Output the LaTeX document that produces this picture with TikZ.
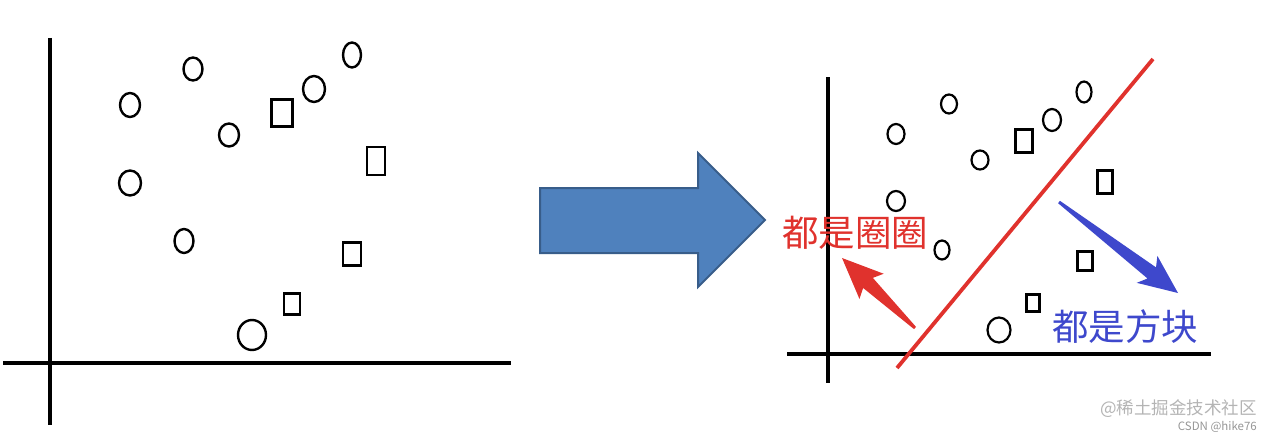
\documentclass[tikz,border=0pt]{standalone}
\usepackage{fontspec}
\newfontfamily\cjk{Noto Sans CJK SC}
\usetikzlibrary{shapes,calc,positioning}
\definecolor{ptblue}{RGB}{79,129,189}
\definecolor{ptblueedge}{RGB}{56,93,138}
\definecolor{sepred}{RGB}{224,50,45}
\definecolor{markblue}{RGB}{62,72,204}
\definecolor{wmgray}{RGB}{180,180,180}
\definecolor{wmdark}{RGB}{150,150,150}
\tikzstyle{axis} = [line width=3.5pt, black]
\tikzstyle{ringmark} = [ellipse, draw, line width=2.4pt, inner sep=0pt, minimum width=20pt, minimum height=24pt]
\tikzstyle{boxmark} = [rectangle, draw, line width=2.4pt, inner sep=0pt]
\tikzstyle{ringsmall} = [ellipse, draw, line width=2.2pt, inner sep=0pt, minimum width=17pt, minimum height=20pt]
\tikzstyle{boxsmall} = [rectangle, draw, line width=2.2pt, inner sep=0pt]
\tikzstyle{cjklabel} = [anchor=base west, inner sep=0pt, font=\cjk\fontsize{36.5}{40}\selectfont]

\begin{document}
\begin{tikzpicture}[x=1pt,y=-1pt]
\useasboundingbox (0,0) rectangle (1276,436);

% left: raw points
\draw[axis] (50,38) -- (50,425);
\draw[axis] (3,363) -- (511,363);
\node[ringmark] (c1) at (130,105) {};
\node[ringmark, minimum width=19pt, minimum height=23pt] (c2) at (193,69) {};
\node[ringmark, minimum height=23pt] (c3) at (229,135) {};
\node[ringmark, minimum width=22pt, minimum height=26pt] (c4) at (314,89) {};
\node[ringmark, minimum width=18pt, minimum height=25pt] (c5) at (352,55) {};
\node[ringmark, minimum width=22pt, minimum height=25pt] (c6) at (130,183) {};
\node[ringmark, minimum width=19pt] (c7) at (184,241) {};
\node[ringmark, minimum width=28pt, minimum height=30pt] (c8) at (252,335) {};
\node[boxmark, minimum width=21pt, minimum height=27pt] (s1) at (282,113) {};
\node[boxmark, minimum width=18pt, minimum height=28pt] (s2) at (376,161) {};
\node[boxmark, minimum width=18pt, minimum height=23pt] (s3) at (352,254) {};
\node[boxmark, minimum width=16pt, minimum height=21pt] (s4) at (292,304) {};

% big arrow
\draw[fill=ptblue, draw=ptblueedge, line width=2pt, line join=miter]
  (540,188) -- (698,188) -- (698,153) -- (765,220) -- (698,287) -- (698,253) -- (540,253) -- cycle;

% right: split points
\draw[axis, line width=3.2pt] (828,77) -- (828,383);
\draw[axis, line width=3.2pt] (787,354) -- (1211,354);
\node[ringsmall] (d1) at (896,134) {};
\node[ringsmall, minimum width=16pt, minimum height=19pt] (d2) at (949,104) {};
\node[ringsmall, minimum height=19pt] (d3) at (980,160) {};
\node[ringsmall, minimum width=18pt, minimum height=22pt] (d4) at (1052,120) {};
\node[ringsmall, minimum width=15pt, minimum height=21pt] (d5) at (1084,92) {};
\node[ringsmall, minimum width=18pt] (d6) at (896,201) {};
\node[ringsmall, minimum width=15pt, minimum height=19pt] (d7) at (942,250) {};
\node[ringsmall, minimum width=23pt, minimum height=25pt] (d8) at (999,330) {};
\node[boxsmall, minimum width=17pt, minimum height=23pt] (t1) at (1024,141) {};
\node[boxsmall, minimum width=15pt, minimum height=23pt] (t2) at (1105,182) {};
\node[boxsmall, minimum width=15pt, minimum height=19pt] (t3) at (1085,261) {};
\node[boxsmall, minimum width=13pt, minimum height=17pt] (t4) at (1033,303) {};

\coordinate (sepa) at (897,368);
\coordinate (sepb) at (1153,59);
\draw[sepred, line width=3.8pt] (sepa) -- (sepb);

\node[cjklabel, text=sepred] (lblring) at (782,246) {都是圈圈};
\node[cjklabel, text=markblue] (lblbox) at (1052,340) {都是方块};

% red arrow
\coordinate (rtail) at (915,328);
\coordinate (rtip) at (842,258);
\coordinate (rneck) at ($(rtip)!36pt!(rtail)$);
\coordinate (rbarb) at ($(rtip)!41pt!(rtail)$);
\fill[sepred] ($(rtail)!1.5pt!90:(rtip)$) -- ($(rneck)!7pt!90:(rtip)$) -- ($(rbarb)!17.5pt!90:(rtip)$) -- (rtip)
  -- ($(rbarb)!17.5pt!-90:(rtip)$) -- ($(rneck)!7pt!-90:(rtip)$) -- ($(rtail)!1.5pt!-90:(rtip)$) -- cycle;

% blue arrow
\coordinate (btail) at (1059,202);
\coordinate (btip) at (1178,293);
\coordinate (bneck) at ($(btip)!33pt!(btail)$);
\coordinate (bbarb) at ($(btip)!39pt!(btail)$);
\fill[markblue] ($(btail)!1.5pt!90:(btip)$) -- ($(bneck)!7pt!90:(btip)$) -- ($(bbarb)!17pt!90:(btip)$) -- (btip)
  -- ($(bbarb)!17pt!-90:(btip)$) -- ($(bneck)!7pt!-90:(btip)$) -- ($(btail)!1.5pt!-90:(btip)$) -- cycle;

% watermark
\node[anchor=base west, inner sep=0pt, text=wmgray, font=\cjk\fontsize{17.5}{20}\selectfont] (wm) at (1100,414) {@稀土掘金技术社区};
\node[anchor=base east, inner sep=0pt, text=wmdark, font=\cjk\fontsize{11.5}{13}\selectfont] (wmsub) at (1257,430) {CSDN @hike76};
\end{tikzpicture}
\end{document}
